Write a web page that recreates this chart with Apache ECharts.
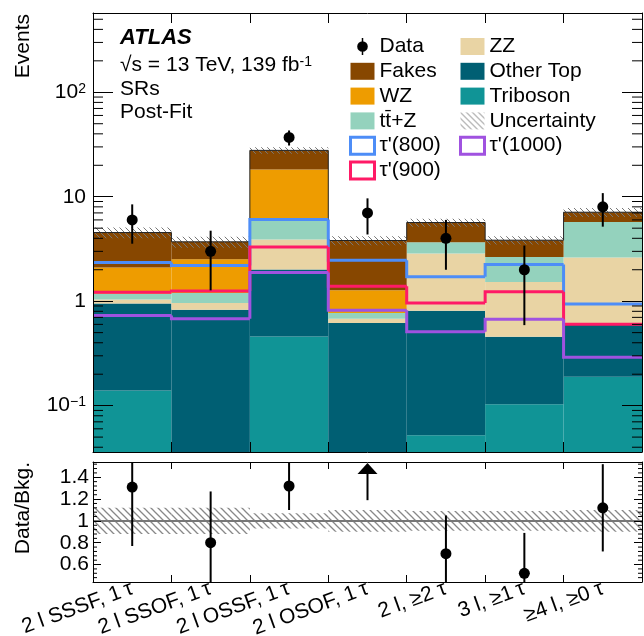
<!DOCTYPE html>
<html><head><meta charset="utf-8">
<script src="https://cdn.jsdelivr.net/npm/echarts@6/dist/echarts.min.js"></script>
<style>html,body{margin:0;padding:0;background:#fff}#c{width:644px;height:636px}</style>
</head><body><div id="c"></div>
<script>
// ---------------- data ----------------
const categories = ['2 l SSSF, 1\u2009τ', '2 l SSOF, 1\u2009τ', '2 l OSSF, 1\u2009τ', '2 l OSOF, 1\u2009τ', '2 l, ≥2 τ', '3 l, ≥1\u2009τ', '≥4 l, ≥0 τ'];
const triboson = [0.14, 0, 0.46, 0, 0.052, 0.103, 0.189];
const otherTop = [0.81, 0.83, 1.55, 0.62, 0.76, 0.353, 0.43];
const zz       = [0.09, 0.13, 1.88, 0.06, 2.05, 1.07, 2.0];
const ttz      = [0.14, 0.24, 2.38, 0.09, 0.81, 1.12, 3.12];
const wz       = [0.92, 1.32, 12.0, 0.50, 0, 0, 0];
const fakes    = [2.44, 1.18, 9.5, 2.54, 1.99, 1.19, 1.37];
const relUnc   = [0.12, 0.12, 0.07, 0.10, 0.09, 0.09, 0.10];
const tau800   = [2.35, 2.20, 6.05, 2.47, 1.71, 2.24, 0.94];
const tau900   = [1.22, 1.25, 3.31, 1.39, 0.96, 1.23, 0.60];
const tau1000  = [0.73, 0.68, 1.88, 0.82, 0.51, 0.67, 0.29];
const dataCounts = [6, 3, 37, 7, 4, 2, 8];
const dataErr    = [2.45, 1.73, 6.08, 2.65, 2.00, 1.41, 2.83];
const ratio      = [1.31, 0.80, 1.32, 1.84, 0.70, 0.52, 1.12];
const ratioErr   = [0.54, 0.47, 0.22, 0.65, 0.35, 0.37, 0.40];
const yMajorTicks = [0.1, 1, 10, 100];
const ratioTicks = [0.6, 0.8, 1.0, 1.2, 1.4];

// ---------------- style ----------------
const FONT = 'Liberation Sans, Arial, Helvetica, sans-serif';
const yMin = 0.036, yMax = 574, rMin = 0.44, rMax = 1.54;
const bkgNames  = ['Triboson', 'Other Top', 'ZZ', 'tt\u0304+Z', 'WZ', 'Fakes'];
const bkgVals   = [triboson, otherTop, zz, ttz, wz, fakes];
const bkgColors = ['#109496', '#005f73', '#e9d4a4', '#94d2bd', '#ee9c00', '#874700'];
const sigNames  = ["τ'(800)", "τ'(900)", "τ'(1000)"];
const sigVals   = [tau800, tau900, tau1000];
const sigColors = ['#4d8df7', '#ff1a66', '#a052e0'];
const N = categories.length;

function hatchCanvas(color, size, lw) {
  const c = document.createElement('canvas'); c.width = size; c.height = size;
  const g = c.getContext('2d'); g.strokeStyle = color; g.lineWidth = lw;
  g.beginPath();
  g.moveTo(-2, -2); g.lineTo(size + 2, size + 2);
  g.moveTo(-2, size - 2); g.lineTo(2, size + 2);
  g.moveTo(size - 2, -2); g.lineTo(size + 2, 2);
  g.stroke();
  return c;
}
const hatchMain = {image: hatchCanvas('#777', 6, 1), repeat: 'repeat'};
const hatchRatio = {image: hatchCanvas('#888', 7, 1.3), repeat: 'repeat'};

// cumulative stack
const lower = [], upper = [];
let run = new Array(N).fill(0);
bkgVals.forEach((arr, k) => {
  lower.push(run.slice());
  run = run.map((v, i) => v + arr[i]);
  upper.push(run.slice());
});
const total = run;

function yOf(api, params, i, v) {
  if (v <= 0) return params.coordSys.y + params.coordSys.height;
  return api.coord([i, v])[1];
}

const series = [];
bkgNames.forEach((name, k) => {
  series.push({
    type: 'custom', name, xAxisIndex: 0, yAxisIndex: 0, z: 2, silent: true,
    itemStyle: {color: bkgColors[k]},
    data: categories.map((c, i) => [i, lower[k][i], upper[k][i]]).filter(d => d[2] > d[1]),
    renderItem: (params, api) => {
      const i = api.value(0), lo = api.value(1), hi = api.value(2);
      const w = params.coordSys.width / N;
      const xc = api.coord([i, hi])[0];
      const yT = yOf(api, params, i, hi), yB = yOf(api, params, i, lo);
      return {type: 'rect', shape: {x: xc - w / 2, y: yT, width: w, height: yB - yT}, style: {fill: bkgColors[k]}};
    }
  });
});
// uncertainty band
series.push({
  type: 'custom', name: 'Uncertainty', xAxisIndex: 0, yAxisIndex: 0, z: 3, silent: true,
  itemStyle: {color: hatchMain},
  data: categories.map((c, i) => [i, total[i] * (1 - relUnc[i]), total[i] * (1 + relUnc[i])]),
  renderItem: (params, api) => {
    const i = api.value(0);
    const w = params.coordSys.width / N;
    const xc = api.coord([i, api.value(2)])[0];
    const yT = api.coord([i, api.value(2)])[1], yB = api.coord([i, api.value(1)])[1];
    return {type: 'rect', shape: {x: xc - w / 2, y: yT, width: w, height: yB - yT}, style: {fill: hatchMain}};
  }
});
// total outline
function stepRender(color, lw) {
  return (params, api) => {
    const i = api.value(0), v = api.value(1), prev = api.value(2);
    const w = params.coordSys.width / N;
    const xc = api.coord([i, v])[0], y = api.coord([i, v])[1];
    const pts = [];
    if (i > 0) pts.push([xc - w / 2, yOf(api, params, i, prev)]);
    pts.push([xc - w / 2, y]); pts.push([xc + w / 2, y]);
    return {type: 'polyline', shape: {points: pts}, style: {stroke: color, lineWidth: lw, fill: null}};
  };
}
series.push({
  type: 'custom', xAxisIndex: 0, yAxisIndex: 0, z: 3, silent: true,
  data: categories.map((c, i) => [i, total[i], i > 0 ? total[i - 1] : 0]),
  renderItem: stepRender('#222', 1)
});
// signals
sigNames.forEach((name, k) => {
  series.push({
    type: 'custom', name, xAxisIndex: 0, yAxisIndex: 0, z: 4, silent: true,
    itemStyle: {color: sigColors[k]},
    data: categories.map((c, i) => [i, sigVals[k][i], i > 0 ? sigVals[k][i - 1] : 0]),
    renderItem: stepRender(sigColors[k], 3)
  });
});
// data
series.push({
  type: 'custom', name: 'Data', xAxisIndex: 0, yAxisIndex: 0, z: 5, silent: true,
  itemStyle: {color: '#000'},
  data: categories.map((c, i) => [i, dataCounts[i], dataErr[i]]),
  renderItem: (params, api) => {
    const i = api.value(0), v = api.value(1), e = api.value(2);
    const p = api.coord([i, v]);
    const y1 = api.coord([i, v + e])[1], y0 = yOf(api, params, i, v - e);
    return {type: 'group', children: [
      {type: 'line', shape: {x1: p[0], y1: y0, x2: p[0], y2: y1}, style: {stroke: '#000', lineWidth: 2}},
      {type: 'circle', shape: {cx: p[0], cy: p[1], r: 5.5}, style: {fill: '#000'}}
    ]};
  }
});
// minor ticks main panel
const minorMain = [];
for (let e = -2; e <= 2; e++) for (let m = 2; m <= 9; m++) { const v = m * Math.pow(10, e); if (v > yMin && v < yMax) minorMain.push([0, v]); }
series.push({
  type: 'custom', xAxisIndex: 0, yAxisIndex: 0, z: 6, silent: true, data: minorMain,
  renderItem: (params, api) => {
    const cs = params.coordSys; const y = api.coord([0, api.value(1)])[1];
    return {type: 'group', children: [
      {type: 'line', shape: {x1: cs.x, y1: y, x2: cs.x + 10, y2: y}, style: {stroke: '#000', lineWidth: 1}},
      {type: 'line', shape: {x1: cs.x + cs.width - 10, y1: y, x2: cs.x + cs.width, y2: y}, style: {stroke: '#000', lineWidth: 1}}
    ]};
  }
});
// ratio band
series.push({
  type: 'custom', xAxisIndex: 2, yAxisIndex: 2, z: 3, silent: true,
  data: categories.map((c, i) => [i, 1 - relUnc[i], 1 + relUnc[i]]),
  renderItem: (params, api) => {
    const i = api.value(0);
    const w = params.coordSys.width / N;
    const xc = api.coord([i, 1])[0];
    const yT = api.coord([i, api.value(2)])[1], yB = api.coord([i, api.value(1)])[1];
    return {type: 'rect', shape: {x: xc - w / 2, y: yT, width: w, height: yB - yT}, style: {fill: hatchRatio}};
  }
});
// ratio unity line
series.push({
  type: 'custom', xAxisIndex: 2, yAxisIndex: 2, z: 4, silent: true, data: [[0, 1]],
  renderItem: (params, api) => {
    const cs = params.coordSys; const y = api.coord([0, api.value(1)])[1];
    return {type: 'line', shape: {x1: cs.x, y1: y, x2: cs.x + cs.width, y2: y}, style: {stroke: '#777', lineWidth: 2}};
  }
});
// ratio points
series.push({
  type: 'custom', xAxisIndex: 2, yAxisIndex: 2, z: 5, silent: true,
  data: categories.map((c, i) => [i, ratio[i], ratioErr[i]]),
  renderItem: (params, api) => {
    const cs = params.coordSys;
    const i = api.value(0), v = api.value(1), e = api.value(2);
    const top = cs.y, bot = cs.y + cs.height;
    const clamp = y => Math.max(top, Math.min(bot, y));
    const xc = api.coord([i, 1])[0];
    if (v > rMax) {
      const yLow = clamp(api.coord([i, v - e])[1]);
      return {type: 'group', children: [
        {type: 'line', shape: {x1: xc, y1: yLow, x2: xc, y2: top + 10}, style: {stroke: '#000', lineWidth: 2}},
        {type: 'polygon', shape: {points: [[xc, top + 1], [xc - 10, top + 12], [xc + 10, top + 12]]}, style: {fill: '#000'}}
      ]};
    }
    const yc = api.coord([i, v])[1];
    const y1 = clamp(api.coord([i, v + e])[1]), y0 = clamp(api.coord([i, v - e])[1]);
    return {type: 'group', children: [
      {type: 'line', shape: {x1: xc, y1: y0, x2: xc, y2: y1}, style: {stroke: '#000', lineWidth: 2}},
      {type: 'circle', shape: {cx: xc, cy: yc, r: 5.5}, style: {fill: '#000'}}
    ]};
  }
});
// ratio minor ticks
const minorRatio = [];
for (let k = 12; k <= 38; k++) { const v = k * 0.04; if (v > rMin && v < rMax && Math.abs(v / 0.2 - Math.round(v / 0.2)) > 1e-6) minorRatio.push([0, v]); }
series.push({
  type: 'custom', xAxisIndex: 2, yAxisIndex: 2, z: 6, silent: true, data: minorRatio,
  renderItem: (params, api) => {
    const cs = params.coordSys; const y = api.coord([0, api.value(1)])[1];
    return {type: 'group', children: [
      {type: 'line', shape: {x1: cs.x, y1: y, x2: cs.x + 4, y2: y}, style: {stroke: '#000', lineWidth: 1}},
      {type: 'line', shape: {x1: cs.x + cs.width - 4, y1: y, x2: cs.x + cs.width, y2: y}, style: {stroke: '#000', lineWidth: 1}}
    ]};
  }
});

function xAxisCfg(grid, pos, labels) {
  return {
    type: 'category', gridIndex: grid, data: categories, position: pos, boundaryGap: true, z: 10,
    axisLine: {show: true, onZero: false, lineStyle: {color: '#000', width: 1}},
    axisTick: {show: true, inside: true, interval: 0, length: grid === 0 ? 10 : 7, lineStyle: {color: '#000', width: 1}},
    axisLabel: labels ? {show: true, interval: 0, rotate: 20, fontSize: 21, fontFamily: FONT, color: '#000', margin: 6} : {show: false},
    splitLine: {show: false}
  };
}
const supFmt = v => {
  const l = Math.log10(v), e = Math.round(l);
  if (Math.abs(l - e) > 1e-6) return '';
  if (e === 0) return '1';
  if (e === 1) return '10';
  return '10{s|' + (e < 0 ? '\u2212' : '') + Math.abs(e) + '}';
};
function yLogCfg(pos, labels) {
  return {
    type: 'log', gridIndex: 0, logBase: 10, min: yMin, max: yMax, position: pos, z: 10,
    axisLine: {show: true, lineStyle: {color: '#000', width: 1}},
    axisTick: {show: true, inside: true, length: 20, lineStyle: {color: '#000', width: 1}},
    axisLabel: labels ? {show: true, formatter: supFmt, fontSize: 21, fontFamily: FONT, color: '#000', margin: 7,
      rich: {s: {fontSize: 14, fontFamily: FONT, color: '#000', verticalAlign: 'top'}}} : {show: false},
    splitLine: {show: false}, minorTick: {show: false}
  };
}
function yRatioCfg(pos, labels) {
  return {
    type: 'value', gridIndex: 1, min: rMin, max: rMax, splitNumber: 5, position: pos, z: 10,
    axisLine: {show: true, onZero: false, lineStyle: {color: '#000', width: 1}},
    axisTick: {show: true, inside: true, length: 8, lineStyle: {color: '#000', width: 1}},
    axisLabel: labels ? {show: true, showMinLabel: false, showMaxLabel: false, fontSize: 21, fontFamily: FONT, color: '#000', margin: 4,
      formatter: v => { const r = ratioTicks.find(t => Math.abs(t - v) < 1e-6); return r === undefined ? '' : String(r); }} : {show: false},
    splitLine: {show: false}
  };
}

const legendText = {fontSize: 21, fontFamily: FONT, color: '#000', lineHeight: 20};
const dataIcon = 'path://M4.3,0 L5.7,0 L5.7,3.5 L4.3,3.5 Z M0,8 A5,5 0 1 1 10,8 A5,5 0 1 1 0,8 Z M4.3,12.5 L5.7,12.5 L5.7,16 L4.3,16 Z';
const sigLegend = k => ({name: sigNames[k], icon: 'rect', itemStyle: {color: '#fff', borderColor: sigColors[k], borderWidth: 3}});

const option = {
  animation: false,
  backgroundColor: '#fff',
  grid: [
    {left: 93, right: 2, top: 13, height: 439, containLabel: false, outerBoundsMode: 'none', show: false},
    {left: 93, right: 2, top: 462, height: 120, containLabel: false, outerBoundsMode: 'none', show: false}
  ],
  xAxis: [xAxisCfg(0, 'bottom', false), xAxisCfg(0, 'top', false), xAxisCfg(1, 'bottom', true), xAxisCfg(1, 'top', false)],
  yAxis: [yLogCfg('left', true), yLogCfg('right', false), yRatioCfg('left', true), yRatioCfg('right', false)],
  legend: [
    {orient: 'vertical', left: 349, top: 36, padding: 0, itemWidth: 24, itemHeight: 17, itemGap: 3.8, selectedMode: false, textStyle: legendText,
      data: [{name: 'Data', icon: dataIcon, itemStyle: {color: '#000'}},
             {name: 'Fakes', icon: 'rect'}, {name: 'WZ', icon: 'rect'}, {name: 'tt\u0304+Z', icon: 'rect'},
             sigLegend(0), sigLegend(1)]},
    {orient: 'vertical', left: 459, top: 36, padding: 0, itemWidth: 24, itemHeight: 17, itemGap: 3.8, selectedMode: false, textStyle: legendText,
      data: [{name: 'ZZ', icon: 'rect'}, {name: 'Other Top', icon: 'rect'}, {name: 'Triboson', icon: 'rect'},
             {name: 'Uncertainty', icon: 'rect', itemStyle: {color: hatchMain}}, sigLegend(2)]}
  ],
  graphic: [
    {type: 'text', x: 120, y: 37.5, style: {text: 'ATLAS', fontSize: 22, fontWeight: 'bold', fontStyle: 'italic', fontFamily: FONT, fill: '#000', verticalAlign: 'middle'}},
    {type: 'text', x: 120, y: 65.5, style: {text: '√s = 13 TeV, 139 fb{s|-1}', fontSize: 21, fontFamily: FONT, fill: '#000', verticalAlign: 'middle',
      rich: {s: {fontSize: 14, fontFamily: FONT, fill: '#000', verticalAlign: 'top'}}}},
    {type: 'text', x: 120, y: 89.5, style: {text: 'SRs', fontSize: 21, fontFamily: FONT, fill: '#000', verticalAlign: 'middle'}},
    {type: 'text', x: 120, y: 112.5, style: {text: 'Post-Fit', fontSize: 21, fontFamily: FONT, fill: '#000', verticalAlign: 'middle'}},
    {type: 'text', x: 23, y: 14, rotation: Math.PI / 2, style: {text: 'Events', fontSize: 21, fontFamily: FONT, fill: '#000', align: 'right', verticalAlign: 'middle'}},
    {type: 'text', x: 23, y: 462, rotation: Math.PI / 2, style: {text: 'Data/Bkg.', fontSize: 21, fontFamily: FONT, fill: '#000', align: 'right', verticalAlign: 'middle'}}
  ],
  series
};
const chart = echarts.init(document.getElementById('c'), null, {renderer: 'canvas'});
chart.setOption(option);
</script>
</body></html>
